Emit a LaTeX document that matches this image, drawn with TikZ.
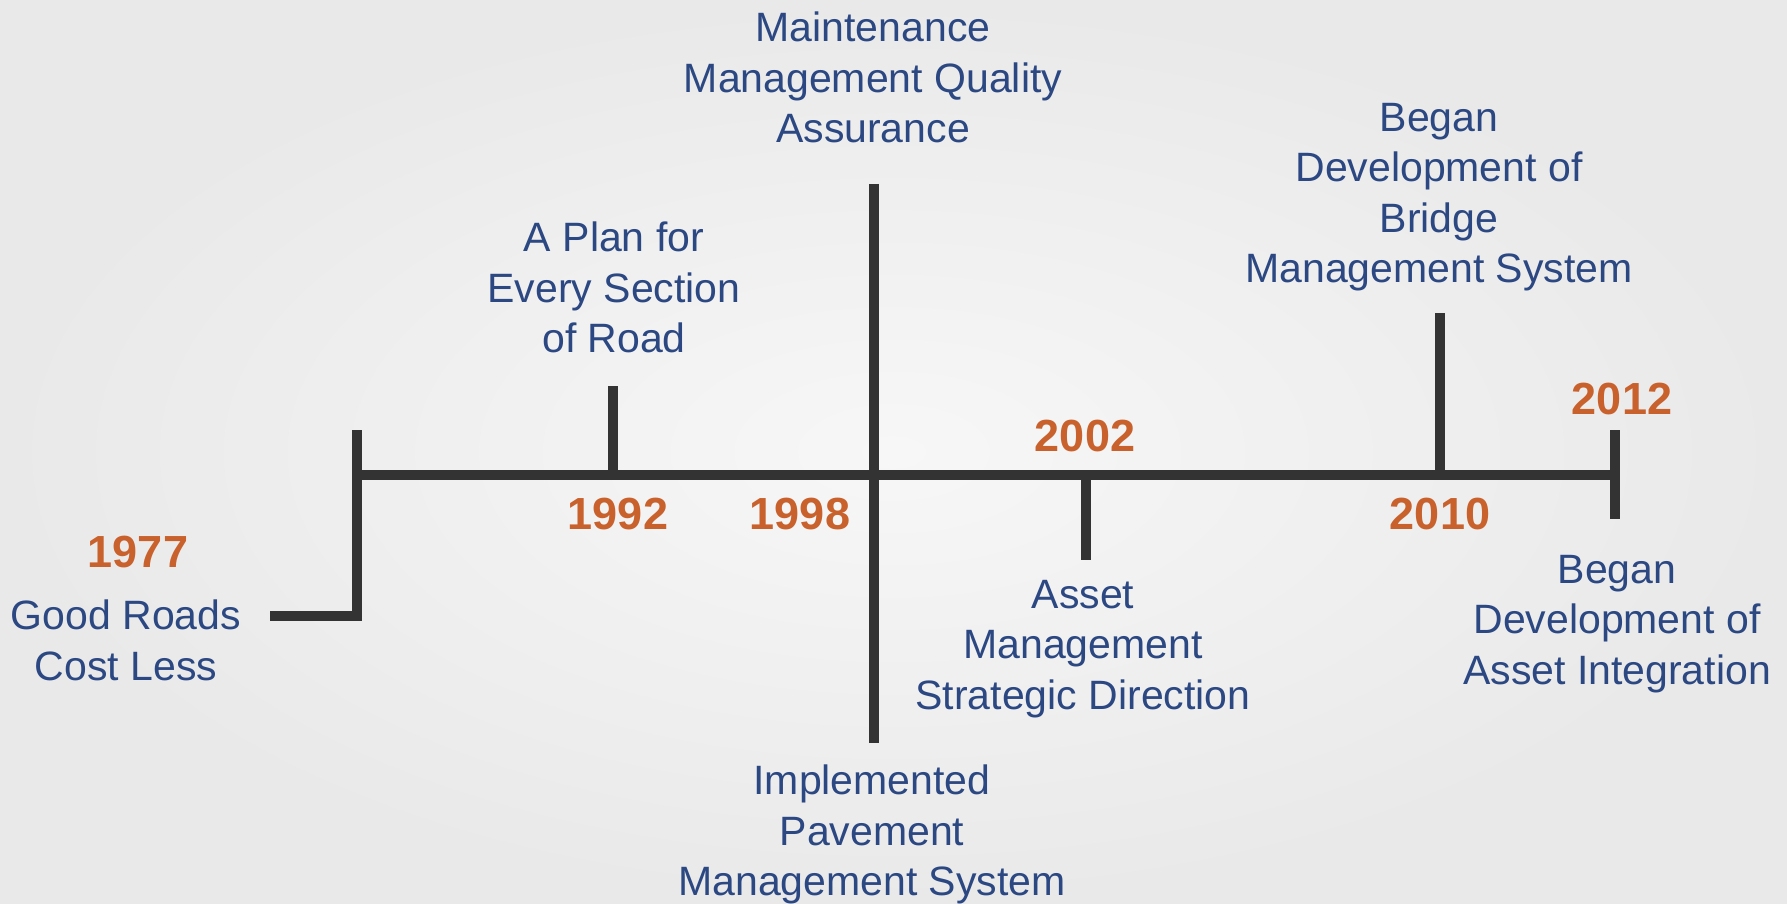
\documentclass[tikz,border=0pt]{standalone}
\usepackage{fontspec}
\setmainfont{Liberation Sans}
\definecolor{txtblue}{RGB}{44,72,130}
\definecolor{yrorange}{RGB}{201,97,44}
\definecolor{barcol}{RGB}{51,51,51}
\definecolor{bgin}{RGB}{247,247,247}
\definecolor{bgout}{RGB}{233,233,233}
\tikzset{
  bar/.style={draw=barcol, line width=10pt},
  label/.style={text=txtblue, align=center, inner sep=0pt, anchor=north,
    font={\fontsize{41}{50.5}\selectfont}},
  year/.style={text=yrorange, inner sep=0pt, anchor=center,
    font={\fontsize{45}{50}\selectfont\bfseries}}
}
\begin{document}
\begin{tikzpicture}[x=1pt,y=-1pt]
\useasboundingbox (0,0) rectangle (1787,904);
\shade[inner color=bgin, outer color=bgout] (0,0) rectangle (1787,904);

% coordinates of the timeline
\coordinate (c77a) at (270,616);
\coordinate (c77b) at (357,616);
\coordinate (c77c) at (357,430);
\coordinate (lineL) at (357,475);
\coordinate (lineR) at (1615,475);
\coordinate (t92top) at (613,386);
\coordinate (t92) at (613,475);
\coordinate (t98top) at (874,184);
\coordinate (t98bot) at (874,743);
\coordinate (t02) at (1086,475);
\coordinate (t02bot) at (1086,560);
\coordinate (t10top) at (1440,313);
\coordinate (t10) at (1440,475);
\coordinate (t12top) at (1615,430);
\coordinate (t12bot) at (1615,519);

\draw[bar] (c77a) -- (c77b) -- (c77c);
\draw[bar] (lineL) -- (lineR);
\draw[bar] (t92top) -- (t92);
\draw[bar] (t98top) -- (t98bot);
\draw[bar] (t02) -- (t02bot);
\draw[bar] (t10top) -- (t10);
\draw[bar] (t12top) -- (t12bot);

% years
\node[year] (y77) at (138,552) {1977};
\node[year] (y92) at (618,514) {1992};
\node[year] (y98) at (800,514) {1998};
\node[year] (y02) at (1085,436) {2002};
\node[year] (y10) at (1440,514) {2010};
\node[year] (y12) at (1622,399) {2012};

% labels
\node[label] (good) at (126,600) {Good Roads\\Cost Less};
\node[label] (plan) at (614,222) {A Plan for\\Every Section\\of Road};
\node[label] (maint) at (873,12) {Maintenance\\Management Quality\\Assurance};
\node[label] (impl) at (872,765) {Implemented\\Pavement\\Management System};
\node[label] (asset) at (1083,580) {Asset\\Management\\Strategic Direction};
\node[label] (bridge) at (1439,103) {Began\\Development of\\Bridge\\Management System};
\node[label] (integ) at (1617,555) {Began\\Development of\\Asset Integration};
\end{tikzpicture}
\end{document}
